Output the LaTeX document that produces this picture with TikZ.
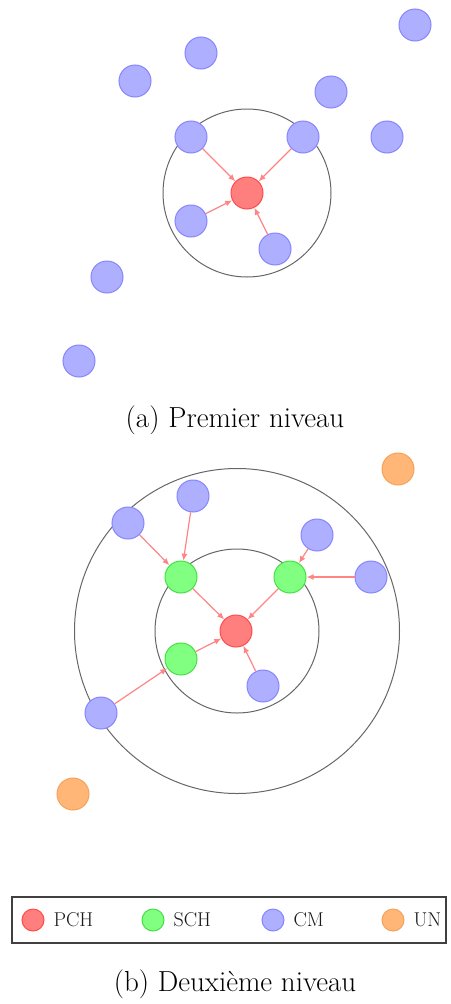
\documentclass[tikz,border=0pt]{standalone}
\usetikzlibrary{arrows.meta}
\definecolor{pchF}{HTML}{FF7F7F}\definecolor{pchD}{HTML}{FF4A4A}
\definecolor{schF}{HTML}{80FF80}\definecolor{schD}{HTML}{44E044}
\definecolor{cmF}{HTML}{AFAFFF}\definecolor{cmD}{HTML}{8585FF}
\definecolor{unF}{HTML}{FFB676}\definecolor{unD}{HTML}{F5A25A}
\definecolor{arr}{HTML}{FF8585}
\definecolor{ringc}{HTML}{666666}
\tikzset{
  basenode/.style={circle,inner sep=0pt,minimum size=32pt,line width=1pt},
  pchnode/.style={basenode,fill=pchF,draw=pchD},
  schnode/.style={basenode,fill=schF,draw=schD},
  cmnode/.style={basenode,fill=cmF,draw=cmD},
  unnode/.style={basenode,fill=unF,draw=unD},
  ringnode/.style={circle,draw=ringc,line width=1pt,inner sep=0pt},
  linkarrow/.style={draw=arr,line width=1.2pt,-{Latex[length=7pt,width=6pt]}},
  captxt/.style={font=\fontsize{29}{34}\selectfont},
  legtxt/.style={font=\fontsize{20}{23}\selectfont,anchor=west,text=black!90},
  legdot/.style={minimum size=22pt}
}
\begin{document}
\begin{tikzpicture}[x=1pt,y=-1pt]
\useasboundingbox (0,0) rectangle (450,1004);
% (a)
\node[ringnode,minimum size=168pt] (ringA) at (247,193) {};
\node[pchnode] (aP) at (247,193) {};
\node[cmnode] (a1) at (415,25) {};
\node[cmnode] (a2) at (201,53) {};
\node[cmnode] (a3) at (135,81) {};
\node[cmnode] (a4) at (331,92) {};
\node[cmnode] (a5) at (191,137) {};
\node[cmnode] (a6) at (303,137) {};
\node[cmnode] (a7) at (387,137) {};
\node[cmnode] (a8) at (191,221) {};
\node[cmnode] (a9) at (275,249) {};
\node[cmnode] (a10) at (107,277) {};
\node[cmnode] (a11) at (79,361) {};
\draw[linkarrow] (a5) -- (aP);
\draw[linkarrow] (a6) -- (aP);
\draw[linkarrow] (a8) -- (aP);
\draw[linkarrow] (a9) -- (aP);
\node[captxt] (capA) at (235,420) {(a) Premier niveau};
% (b)
\node[ringnode,minimum size=325pt] (ringB1) at (237,631) {};
\node[ringnode,minimum size=164pt] (ringB2) at (237,631) {};
\node[pchnode] (bP) at (236,631) {};
\node[schnode] (g1) at (181,577) {};
\node[schnode] (g2) at (290,577) {};
\node[schnode] (g3) at (181,659) {};
\node[cmnode] (b1) at (128,523) {};
\node[cmnode] (b2) at (193,496) {};
\node[cmnode] (b3) at (317,535) {};
\node[cmnode] (b4) at (371,577) {};
\node[cmnode] (b5) at (263,686) {};
\node[cmnode] (b6) at (101,713) {};
\node[unnode] (u1) at (398,469) {};
\node[unnode] (u2) at (73,794) {};
\draw[linkarrow] (b1) -- (g1);
\draw[linkarrow] (b2) -- (g1);
\draw[linkarrow] (b3) -- (g2);
\draw[linkarrow] (b4) -- (g2);
\draw[linkarrow] (b6) -- (g3);
\draw[linkarrow] (g1) -- (bP);
\draw[linkarrow] (g2) -- (bP);
\draw[linkarrow] (g3) -- (bP);
\draw[linkarrow] (b5) -- (bP);
% legend
\node[draw=black!75,line width=1.5pt,minimum width=434pt,minimum height=46pt,inner sep=0pt] (legbox) at (229,920) {};
\node[pchnode,legdot] (l1) at (33,920) {};
\node[legtxt] (t1) at (50,920) {PCH};
\node[schnode,legdot] (l2) at (153,920) {};
\node[legtxt] (t2) at (170,920) {SCH};
\node[cmnode,legdot] (l3) at (273,920) {};
\node[legtxt] (t3) at (290,920) {CM};
\node[unnode,legdot] (l4) at (393,920) {};
\node[legtxt] (t4) at (410,920) {UN};
\node[captxt] (capB) at (235,984) {(b) Deuxième niveau};
\end{tikzpicture}
\end{document}
